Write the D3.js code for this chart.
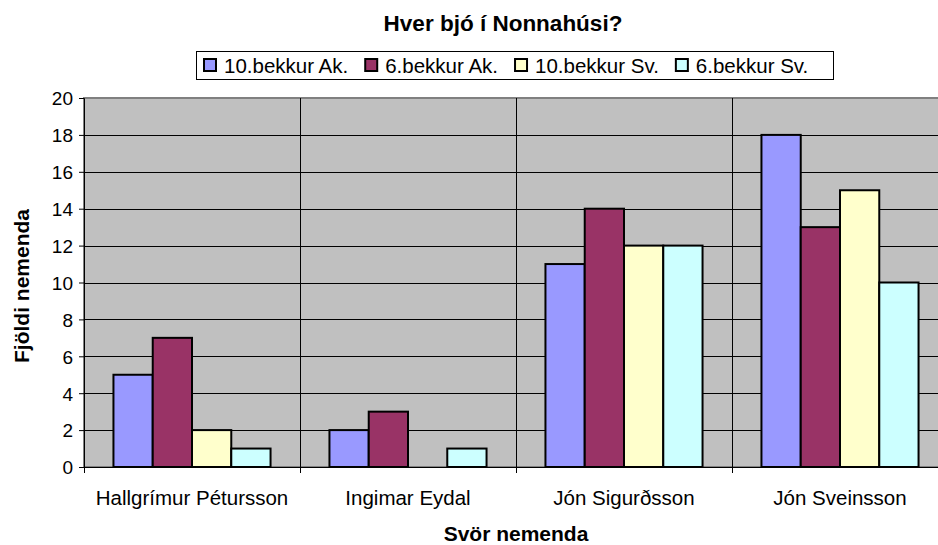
<!DOCTYPE html>
<html>
<head>
<meta charset="utf-8">
<script src="https://cdn.jsdelivr.net/npm/d3@7"></script>
<style>
  body { margin: 0; background: #fff; overflow: hidden; }
  text { font-family: "Liberation Sans", Arial, sans-serif; }
</style>
</head>
<body>
<svg id="chart" width="938" height="545"></svg>
<script>
// data
const categories = ["Hallgrímur Pétursson", "Ingimar Eydal", "Jón Sigurðsson", "Jón Sveinsson"];
const seriesNames = ["10.bekkur Ak.", "6.bekkur Ak.", "10.bekkur Sv.", "6.bekkur Sv."];
const seriesColors = ["#9999FF", "#993366", "#FFFFCC", "#CCFFFF"];
const ak10 = [5, 2, 11, 18];
const ak6 = [7, 3, 14, 13];
const sv10 = [2, 0, 12, 15];
const sv6 = [1, 1, 12, 10];
const yTicks = [0, 2, 4, 6, 8, 10, 12, 14, 16, 18, 20];

const series = [ak10, ak6, sv10, sv6];

const svg = d3.select("#chart");
const plot = { left: 84, top: 98, right: 948, bottom: 467 };

let x = d3.scaleBand()
    .domain(categories)
    .range([plot.left, plot.right]);
// 4 bars + gap width 150%
let x1 = d3.scaleBand()
    .domain(d3.range(series.length))
    .range([0, x.bandwidth()])
    .paddingOuter(0.75)
    .paddingInner(0);
let y = d3.scaleLinear()
    .domain([0, 20])
    .range([plot.bottom, plot.top]);

// plot background
svg.append("rect")
    .attr("x", plot.left).attr("y", plot.top)
    .attr("width", plot.right - plot.left).attr("height", plot.bottom - plot.top)
    .attr("fill", "#C0C0C0")
    .attr("stroke", "#808080")
    .attr("stroke-width", 2);

// horizontal gridlines
svg.append("g").selectAll("line")
    .data(yTicks.filter(d => d > 0 && d < 20))
    .join("line")
    .attr("x1", plot.left).attr("x2", plot.right)
    .attr("y1", d => Math.round(y(d)) + 0.5).attr("y2", d => Math.round(y(d)) + 0.5)
    .attr("stroke", "#000").attr("stroke-width", 1);

// vertical gridlines at category edges
svg.append("g").selectAll("line")
    .data(categories.slice(1))
    .join("line")
    .attr("x1", d => Math.round(x(d)) + 0.5).attr("x2", d => Math.round(x(d)) + 0.5)
    .attr("y1", plot.top).attr("y2", plot.bottom)
    .attr("stroke", "#000").attr("stroke-width", 1);

// bars
series.forEach(function (vals, i) {
    svg.append("g").selectAll("rect")
        .data(vals)
        .join("rect")
        .attr("x", (d, j) => x(categories[j]) + x1(i))
        .attr("y", d => y(d))
        .attr("width", x1.bandwidth())
        .attr("height", d => y(0) - y(d))
        .attr("fill", seriesColors[i])
        .attr("stroke", d => d > 0 ? "#000" : "none")
        .attr("stroke-width", 2);
});

// y axis
const yAxis = d3.axisLeft(y).tickValues(yTicks).tickSize(5).tickPadding(6);
svg.append("g")
    .attr("transform", `translate(${plot.left},0)`)
    .call(yAxis)
    .call(g => g.select(".domain").attr("stroke", "#000").attr("stroke-width", 1))
    .call(g => g.selectAll("text").attr("font-size", 19).attr("fill", "#000").attr("dy", "0.36em")
        .attr("font-family", "Liberation Sans, Arial, sans-serif"));

// x axis
const xAxis = d3.axisBottom(x).tickSize(0).tickPadding(0);
svg.append("g")
    .attr("transform", `translate(0,${plot.bottom})`)
    .call(xAxis)
    .call(g => g.select(".domain").remove())
    .call(g => g.selectAll("text").attr("font-size", 20.5).attr("fill", "#000")
        .attr("dy", 0).attr("y", 38)
        .attr("font-family", "Liberation Sans, Arial, sans-serif"));
svg.append("line")
    .attr("x1", plot.left - 5).attr("x2", plot.right)
    .attr("y1", plot.bottom + 0.5).attr("y2", plot.bottom + 0.5)
    .attr("stroke", "#000");
svg.append("g").selectAll("line")
    .data(categories)
    .join("line")
    .attr("x1", d => Math.round(x(d)) + 0.5).attr("x2", d => Math.round(x(d)) + 0.5)
    .attr("y1", plot.bottom).attr("y2", plot.bottom + 6)
    .attr("stroke", "#000");

// titles
svg.append("text")
    .attr("x", 503).attr("y", 31)
    .attr("text-anchor", "middle")
    .attr("font-size", 22.5).attr("font-weight", "bold")
    .text("Hver bjó í Nonnahúsi?");
svg.append("text")
    .attr("x", 516).attr("y", 541)
    .attr("text-anchor", "middle")
    .attr("font-size", 21).attr("font-weight", "bold")
    .text("Svör nemenda");
svg.append("text")
    .attr("transform", "translate(29,286) rotate(-90)")
    .attr("text-anchor", "middle")
    .attr("font-size", 21).attr("font-weight", "bold")
    .text("Fjöldi nemenda");

// legend
svg.append("rect")
    .attr("x", 196.5).attr("y", 51.5)
    .attr("width", 637).attr("height", 28)
    .attr("fill", "#fff").attr("stroke", "#000");
const legend = svg.append("g");
let lx = 204;
seriesNames.forEach(function (name, i) {
    legend.append("rect")
        .attr("x", lx).attr("y", 59)
        .attr("width", 12).attr("height", 12)
        .attr("fill", seriesColors[i])
        .attr("stroke", "#000").attr("stroke-width", 2);
    let t = legend.append("text")
        .attr("x", lx + 20).attr("y", 73)
        .attr("font-size", 20.5)
        .text(name);
    lx += 20 + t.node().getComputedTextLength() + 17;
});
</script>
</body>
</html>
